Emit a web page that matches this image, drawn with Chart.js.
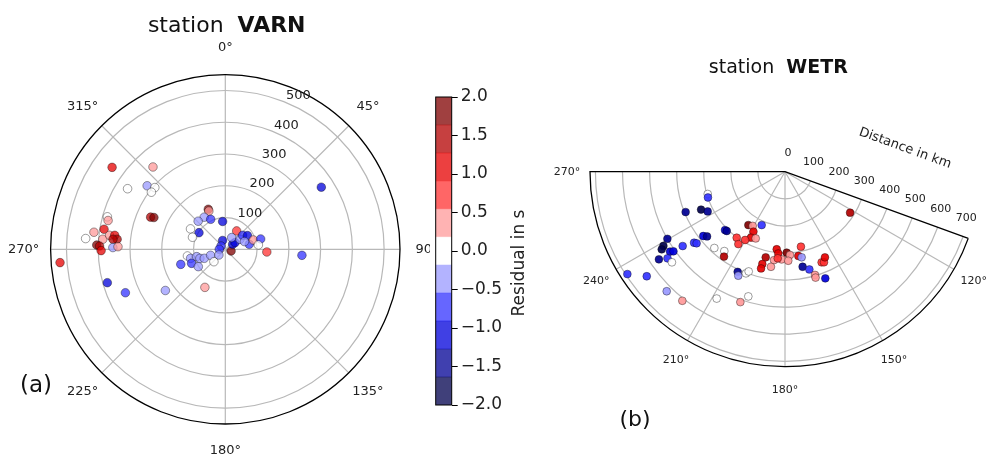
<!DOCTYPE html>
<html>
<head>
<meta charset="utf-8">
<script src="https://cdn.jsdelivr.net/npm/chart.js@4.4.0/dist/chart.umd.min.js"></script>
<style>
  html, body { margin: 0; padding: 0; background: #fff; }
  #page { position: relative; width: 987px; height: 460px; overflow: hidden; }
  canvas { position: absolute; top: 0; }
</style>
</head>
<body>
<div id="page">
  <canvas id="varnChart" width="430" height="460" style="left:0px"></canvas>
  <canvas id="colorbar" width="116" height="460" style="left:420px"></canvas>
  <canvas id="wetrChart" width="447" height="460" style="left:540px"></canvas>
</div>
<script>
// Station VARN: azimuth (deg), distance (km), residual (s)
const varnAzimuth = [305.9, 318.7, 301.8, 309.1, 311.2, 307.7, 285.4, 283.8, 279.4, 277.4, 274.4, 274.7, 276.9, 277.2, 275.3, 275.1, 271.9, 271.5, 269.4, 270.9, 271.4, 265.4,
  254.2, 246.5, 235.5, 208.2, 293.3, 294.0, 57.1, 94.5, 93.7, 31.7,
  337.0, 336.7, 326.7, 316.0, 334.0, 354.5, 300.4, 302.3, 290.2, 342.9, 307.6, 270.0,
  106.4, 55.7, 55.4, 28.5, 55.7, 51.1, 58.2, 78.2, 71.6, 73.7, 82.5, 68.0,
  251.3, 260.0, 255.4, 247.4, 255.6, 237.3, 250.4, 246.8, 247.8, 222.6, 228.2];
const varnDistance = [440, 345, 362, 317, 295, 294, 385, 380, 387, 417, 441, 387, 367, 351, 342, 355, 405, 396, 391, 354, 338, 522,
  386, 343, 229, 136, 256, 246, 360, 242, 131, 68,
  137, 131, 121, 123, 105, 88, 127, 98, 110, 29, 17, 19,
  19, 28, 37, 42, 56, 70, 82, 77, 93, 116, 105, 65,
  148, 121, 113, 115, 93, 101, 85, 72, 50, 53, 27];
const varnResidual = [0.95, 0.35, 0.0, -0.4, -0.15, 0.05, 0.05, 0.4, 1.0, 0.4, 0.0, 0.35, 0.45, 1.0, 1.4, 1.3, 1.8, 1.5, 1.05, -0.35, 0.4, 0.95,
  -1.1, -0.85, -0.4, 0.4, 1.5, 1.85, -1.0, -0.8, 0.8, 0.8,
  1.7, 0.4, -0.4, -0.4, -0.9, -1.0, 0.0, -0.95, -0.1, -1.0, -0.9, -0.7,
  1.8, -1.1, -1.2, -0.4, -0.4, -0.9, -1.1, -0.7, 0.4, -0.8, 0.0, -0.4,
  -0.9, 0.0, -0.4, -0.9, -0.5, -0.4, -0.2, -0.4, -0.4, 0.0, -0.4];

// Station WETR
const wetrAzimuth = [253.9, 251.5, 247.9, 245.7, 242.8, 240.3, 238.6, 234.0, 232.0, 231.0, 231.8, 230.3, 225.8, 224.5, 235.2, 234.5, 235.2, 233.6, 231.3, 237.8,
  237.0, 232.9, 224.7, 218.5, 208.3, 198.9, 196.4, 222.8, 217.4, 215.7, 205.3, 204.2, 201.0, 200.0, 214.5, 210.8,
  203.6, 207.8, 207.3, 203.7, 210.3, 216.2, 212.8,
  186.1, 192.7, 184.7, 178.8, 176.6, 187.1, 182.2, 177.9, 193.8, 193.9, 188.4,
  171.0, 168.0, 169.0, 169.5, 166.0, 163.8, 163.9, 158.0, 156.7, 155.0, 159.3, 122.2, 184.8];
const wetrDistance = [297, 300, 396, 340, 321, 500, 526, 467, 426, 420, 384, 374, 309, 307, 517, 506, 567, 539, 535, 538,
  694, 640, 621, 609, 532, 509, 480, 384, 369, 386, 409, 421, 402, 392, 239, 233,
  215, 250, 274, 269, 292, 302, 318,
  288, 324, 303, 299, 308, 329, 324, 329, 351, 368, 355,
  315, 283, 322, 357, 372, 397, 407, 361, 364, 349, 421, 284, 321];
const wetrResidual = [0.0, -0.6, -1.5, -1.7, -1.4, -1.5, -1.8, -0.8, -0.8, -0.6, -1.1, -1.4, -1.2, -1.5, -1.2, -1.1, -1.3, -0.8, 0.0, -1.8,
  -0.8, -0.8, -0.4, 0.4, 0.0, 0.4, 0.0, 0.1, 0.0, 1.5, -1.5, -0.4, 0.0, 0.0, 1.7, 0.4,
  -0.9, 1.0, 1.1, 0.4, 0.8, 0.8, 0.8,
  1.0, 1.5, 1.0, 1.7, 0.4, 0.4, 0.4, 0.4, 1.1, 1.2, 0.4,
  1.0, 0.8, -0.3, -1.5, -0.8, 0.5, 0.4, 0.8, 0.7, 1.0, -1.0, 1.6, 0.8];

// axes / ticks
const varnRMax = 550;
const varnRings = [100, 200, 300, 400, 500];
const varnAngles = [0, 45, 90, 135, 180, 225, 270, 315];
const wetrRMax = 720;
const wetrRings = [100, 200, 300, 400, 500, 600, 700];
const wetrRadialLabels = [0, 100, 200, 300, 400, 500, 600, 700];
const wetrAngles = [120, 150, 180, 210, 240, 270];
const wetrThetaMin = 110, wetrThetaMax = 270;

// colour bar
const cbMin = -2, cbMax = 2, cbLevels = 11;
const cbTicks = [-2, -1.5, -1, -0.5, 0, 0.5, 1, 1.5, 2];

Chart.defaults.font.family = '"DejaVu Sans", sans-serif';
Chart.defaults.color = '#222';

const DEG = Math.PI / 180;
const GRID = '#b8b8b8';

// matplotlib 'seismic'
function seismic(t) {
  const stops = [[0, 0, 0, 0.3], [0.25, 0, 0, 1], [0.5, 1, 1, 1], [0.75, 1, 0, 0], [1, 0.5, 0, 0]];
  for (let i = 1; i < stops.length; i++) {
    if (t <= stops[i][0]) {
      const a = stops[i - 1], b = stops[i];
      const f = (t - a[0]) / (b[0] - a[0]);
      return [1, 2, 3].map(j => a[j] + (b[j] - a[j]) * f);
    }
  }
  return stops[stops.length - 1].slice(1);
}

function levelColor(k, alpha) {
  const c = seismic(k / (cbLevels - 1)).map(v => Math.round(v * 255));
  return `rgba(${c[0]},${c[1]},${c[2]},${alpha})`;
}

function residualColor(res, alpha) {
  let k = Math.floor((res - cbMin) / ((cbMax - cbMin) / cbLevels));
  k = Math.max(0, Math.min(cbLevels - 1, k));
  return levelColor(k, alpha);
}

function toXY(az, dist) {
  return az.map((a, i) => ({ x: dist[i] * Math.sin(a * DEG), y: dist[i] * Math.cos(a * DEG) }));
}

// pixel helpers from the chart's own scales
function polarFrame(chart) {
  const xs = chart.scales.x, ys = chart.scales.y;
  const cx = xs.getPixelForValue(0), cy = ys.getPixelForValue(0);
  const k = (xs.getPixelForValue(100) - cx) / 100;
  return {
    cx, cy, k,
    pt: (r, az) => ({ x: cx + r * k * Math.sin(az * DEG), y: cy - r * k * Math.cos(az * DEG) })
  };
}

function drawTitle(ctx, x, y, size, normal, bold) {
  ctx.save();
  ctx.fillStyle = '#111';
  ctx.textBaseline = 'alphabetic';
  ctx.font = `${size}px "DejaVu Sans"`;
  const w1 = ctx.measureText(normal).width;
  ctx.font = `bold ${size}px "DejaVu Sans"`;
  const w2 = ctx.measureText(bold).width;
  let x0 = x - (w1 + w2) / 2;
  ctx.textAlign = 'left';
  ctx.font = `${size}px "DejaVu Sans"`;
  ctx.fillText(normal, x0, y);
  ctx.font = `bold ${size}px "DejaVu Sans"`;
  ctx.fillText(bold, x0 + w1, y);
  ctx.restore();
}

function scatterDataset(az, dist, res, alpha, radius) {
  return {
    data: toXY(az, dist),
    pointBackgroundColor: res.map(r => residualColor(r, alpha)),
    pointBorderColor: 'rgba(0,0,0,0.55)',
    pointBorderWidth: 0.7,
    pointRadius: radius,
    pointHoverRadius: radius,
    clip: false
  };
}

// ---------- VARN (full circle) ----------
const varnPlugin = {
  id: 'varnPolar',
  beforeDatasetsDraw(chart) {
    const ctx = chart.ctx;
    const f = polarFrame(chart);
    const R = varnRMax * f.k;
    ctx.save();
    ctx.strokeStyle = GRID;
    ctx.lineWidth = 1.2;
    varnRings.forEach(r => {
      ctx.beginPath();
      ctx.arc(f.cx, f.cy, r * f.k, 0, 2 * Math.PI);
      ctx.stroke();
    });
    varnAngles.forEach(a => {
      const p = f.pt(varnRMax, a);
      ctx.beginPath();
      ctx.moveTo(f.cx, f.cy);
      ctx.lineTo(p.x, p.y);
      ctx.stroke();
    });
    ctx.strokeStyle = '#000';
    ctx.lineWidth = 1.3;
    ctx.beginPath();
    ctx.arc(f.cx, f.cy, R, 0, 2 * Math.PI);
    ctx.stroke();
    ctx.restore();
  },
  afterDatasetsDraw(chart) {
    const ctx = chart.ctx;
    const f = polarFrame(chart);
    const R = varnRMax * f.k;
    ctx.save();
    ctx.fillStyle = '#222';
    ctx.font = '13px "DejaVu Sans"';
    ctx.textAlign = 'center';
    ctx.textBaseline = 'middle';
    varnAngles.forEach(a => {
      const d = R + 27;
      ctx.fillText(a + '°', f.cx + d * Math.sin(a * DEG), f.cy - d * Math.cos(a * DEG));
    });
    ctx.textAlign = 'left';
    ctx.textBaseline = 'bottom';
    varnRings.forEach(r => {
      const p = f.pt(r, 22.5);
      ctx.fillText(String(r), p.x, p.y);
    });
    ctx.restore();
    drawTitle(ctx, 226.7, 31.5, 22, 'station  ', 'VARN');
    ctx.save();
    ctx.fillStyle = '#111';
    ctx.font = '23px "DejaVu Sans"';
    ctx.textAlign = 'center';
    ctx.textBaseline = 'middle';
    ctx.fillText('(a)', 36, 386);
    ctx.restore();
  }
};

new Chart(document.getElementById('varnChart'), {
  type: 'scatter',
  data: { datasets: [scatterDataset(varnAzimuth, varnDistance, varnResidual, 0.75, 4.3)] },
  options: {
    responsive: false,
    animation: false,
    layout: { padding: { left: 50.6, top: 74.6, right: 30, bottom: 36 } },
    scales: {
      x: { type: 'linear', min: -varnRMax, max: varnRMax, display: false },
      y: { type: 'linear', min: -varnRMax, max: varnRMax, display: false }
    },
    plugins: { legend: { display: false }, tooltip: { enabled: false } }
  },
  plugins: [varnPlugin]
});

// ---------- colour bar ----------
const cbStep = (cbMax - cbMin) / cbLevels;
const cbDatasets = [];
for (let k = 0; k < cbLevels; k++) {
  cbDatasets.push({
    data: [[cbMin + k * cbStep, cbMin + (k + 1) * cbStep]],
    backgroundColor: levelColor(k, 0.75),
    borderWidth: 0,
    barPercentage: 1,
    categoryPercentage: 1,
    grouped: false
  });
}

// outline + label reading bottom-to-top, like matplotlib
const cbDecor = {
  id: 'cbDecor',
  afterDatasetsDraw(chart) {
    const a = chart.chartArea, ctx = chart.ctx;
    ctx.save();
    ctx.strokeStyle = '#000';
    ctx.lineWidth = 1;
    ctx.strokeRect(a.left, a.top, a.right - a.left, a.bottom - a.top);
    ctx.translate(100, (a.top + a.bottom) / 2 + 12);
    ctx.rotate(-Math.PI / 2);
    ctx.fillStyle = '#222';
    ctx.font = '17px "DejaVu Sans"';
    ctx.textAlign = 'center';
    ctx.textBaseline = 'middle';
    ctx.fillText('Residual in s', 0, 0);
    ctx.restore();
  }
};

new Chart(document.getElementById('colorbar'), {
  type: 'bar',
  data: { labels: [''], datasets: cbDatasets },
  options: {
    responsive: false,
    animation: false,
    layout: { padding: { left: 15.7, top: 97, bottom: 55, right: 0 } },
    scales: {
      x: { display: false },
      y: {
        position: 'right',
        min: cbMin,
        max: cbMax,
        afterBuildTicks: s => { s.ticks = cbTicks.map(v => ({ value: v })); },
        afterFit: s => { s.width = 116 - 31.7; },
        border: { display: false },
        grid: { drawOnChartArea: false, drawTicks: true, tickLength: 6, color: '#000' },
        ticks: {
          font: { size: 17 },
          color: '#222',
          padding: 3,
          callback: v => v.toFixed(1).replace('-', '\u2212')
        }
      }
    },
    plugins: { legend: { display: false }, tooltip: { enabled: false } }
  },
  plugins: [cbDecor]
});

// ---------- WETR (sector 110°..270°) ----------
const wetrPlugin = {
  id: 'wetrPolar',
  beforeDatasetsDraw(chart) {
    const ctx = chart.ctx;
    const f = polarFrame(chart);
    const R = wetrRMax * f.k;
    const a0 = (wetrThetaMin - 90) * DEG, a1 = (wetrThetaMax - 90) * DEG;
    ctx.save();
    ctx.strokeStyle = GRID;
    ctx.lineWidth = 1.2;
    wetrRings.forEach(r => {
      ctx.beginPath();
      ctx.arc(f.cx, f.cy, r * f.k, a0, a1, false);
      ctx.stroke();
    });
    wetrAngles.filter(a => a < wetrThetaMax).forEach(a => {
      const p = f.pt(wetrRMax, a);
      ctx.beginPath();
      ctx.moveTo(f.cx, f.cy);
      ctx.lineTo(p.x, p.y);
      ctx.stroke();
    });
    ctx.strokeStyle = '#000';
    ctx.lineWidth = 1.3;
    const pMin = f.pt(wetrRMax, wetrThetaMin);
    ctx.beginPath();
    ctx.moveTo(pMin.x, pMin.y);
    ctx.lineTo(f.cx, f.cy);
    ctx.arc(f.cx, f.cy, R, a1, a0, true);
    ctx.stroke();
    ctx.restore();
  },
  afterDatasetsDraw(chart) {
    const ctx = chart.ctx;
    const f = polarFrame(chart);
    const R = wetrRMax * f.k;
    ctx.save();
    ctx.fillStyle = '#222';
    ctx.font = '11px "DejaVu Sans"';
    ctx.textAlign = 'center';
    ctx.textBaseline = 'middle';
    wetrAngles.forEach(a => {
      const d = R + 23;
      ctx.fillText(a + '°', f.cx + d * Math.sin(a * DEG), f.cy - d * Math.cos(a * DEG));
    });
    wetrRadialLabels.forEach(r => {
      const p = f.pt(r, wetrThetaMin);
      ctx.fillText(String(r), p.x + 3, p.y - 18.5);
    });
    // axis label along the 110° edge
    const e = f.pt(387, wetrThetaMin);
    const rot = (wetrThetaMin - 90) * DEG;
    ctx.translate(e.x + 63 * Math.sin(rot), e.y - 63 * Math.cos(rot));
    ctx.rotate(rot);
    ctx.font = '13px "DejaVu Sans"';
    ctx.fillText('Distance in km', 0, 0);
    ctx.restore();
    drawTitle(ctx, 238.3, 72.5, 19, 'station  ', 'WETR');
    ctx.save();
    ctx.fillStyle = '#111';
    ctx.font = '22px "DejaVu Sans"';
    ctx.textAlign = 'center';
    ctx.textBaseline = 'middle';
    ctx.fillText('(b)', 95, 420);
    ctx.restore();
  }
};

const wetrApex = { x: 245, y: 171.7 }, wetrRadiusPx = 195;
const wetrXMax = wetrRMax * Math.sin(wetrThetaMin * DEG);
const wetrCanvas = document.getElementById('wetrChart');

new Chart(wetrCanvas, {
  type: 'scatter',
  data: { datasets: [scatterDataset(wetrAzimuth, wetrDistance, wetrResidual, 0.92, 3.9)] },
  options: {
    responsive: false,
    animation: false,
    layout: {
      padding: {
        left: wetrApex.x - wetrRadiusPx,
        top: wetrApex.y,
        right: wetrCanvas.width - (wetrApex.x + wetrRadiusPx * wetrXMax / wetrRMax),
        bottom: wetrCanvas.height - (wetrApex.y + wetrRadiusPx)
      }
    },
    scales: {
      x: { type: 'linear', min: -wetrRMax, max: wetrXMax, display: false },
      y: { type: 'linear', min: -wetrRMax, max: 0, display: false }
    },
    plugins: { legend: { display: false }, tooltip: { enabled: false } }
  },
  plugins: [wetrPlugin]
});
</script>
</body>
</html>
